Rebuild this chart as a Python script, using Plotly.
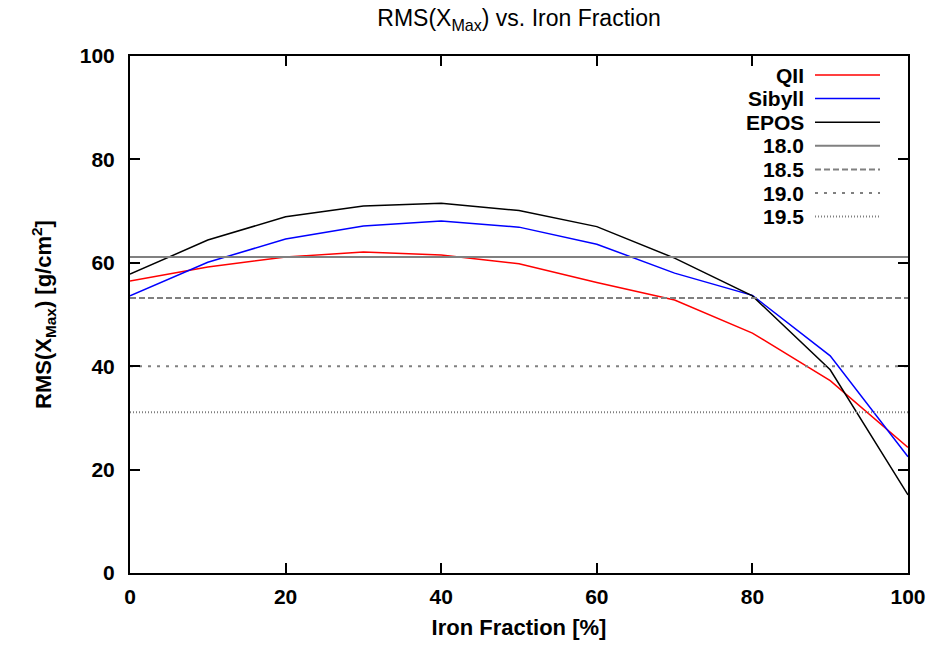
import plotly.graph_objects as go

iron_fraction = [0, 10, 20, 30, 40, 50, 60, 70, 80, 90, 100]
qii = [56.5, 59.2, 61.1, 62.1, 61.5, 59.8, 56.2, 52.8, 46.4, 37.2, 24.3]
sibyll = [53.6, 60.1, 64.6, 67.1, 68.1, 66.9, 63.6, 58.0, 53.7, 42.0, 22.5]
epos = [57.8, 64.4, 68.9, 71.0, 71.5, 70.1, 67.0, 60.9, 53.6, 39.3, 15.1]

energy_labels = ["18.0", "18.5", "19.0", "19.5"]
energy_values = [61.1, 53.2, 40.0, 31.1]

FONT = "Liberation Sans, Arial, sans-serif"

fig = go.Figure()

series = [("QII", qii, "#ff0000", "solid"),
          ("Sibyll", sibyll, "#0000ff", "solid"),
          ("EPOS", epos, "#000000", "solid")]
gray_dashes = ["solid", "6px,3px", "3px,6px", "1px,2px"]

for name, ys, col, dash in series:
    fig.add_trace(go.Scatter(x=iron_fraction, y=ys, mode="lines", name=name,
                             line=dict(color=col, width=1.5, dash=dash)))

for lab, v, d in zip(energy_labels, energy_values, gray_dashes):
    fig.add_trace(go.Scatter(x=[iron_fraction[0], iron_fraction[-1]], y=[v, v], mode="lines",
                             name=lab, line=dict(color="#808080", width=2, dash=d)))

# gnuplot-style legend: right-aligned text followed by a line sample
legend_items = [(n, c, 1.5, d) for n, _, c, d in series] + \
               [(lab, "#808080", 2, d) for lab, d in zip(energy_labels, gray_dashes)]
top_px, step_px = 75, 23.6
plot_top, plot_h = 56, 517
plot_left, plot_w = 130, 778
for i, (name, col, w, d) in enumerate(legend_items):
    ypx = top_px + i * step_px
    yp = 1 - (ypx - plot_top) / plot_h
    fig.add_annotation(xref="paper", yref="paper", x=(806 - plot_left) / plot_w, y=yp,
                       text="<b>" + name + "</b>", showarrow=False, xanchor="right",
                       yanchor="middle", font=dict(family=FONT, size=21, color="black"))
    fig.add_shape(type="line", xref="paper", yref="paper",
                  x0=(815 - plot_left) / plot_w, x1=(880 - plot_left) / plot_w, y0=yp, y1=yp,
                  line=dict(color=col, width=w, dash=d))

axis_common = dict(showline=True, linecolor="black", linewidth=2, mirror="ticks",
                   ticks="inside", ticklen=10, tickwidth=1.5, tickcolor="black",
                   showgrid=False, zeroline=False, automargin=False,
                   tickfont=dict(family=FONT, size=21, color="black", weight="bold"))

fig.update_layout(
    width=935, height=645,
    margin=dict(l=130, r=27, t=56, b=72),
    paper_bgcolor="white", plot_bgcolor="white",
    showlegend=False,
    title=dict(text="RMS(X<sub>Max</sub>) vs. Iron Fraction", xref="paper", x=0.5,
               xanchor="center", y=1 - 18 / 645, yanchor="middle",
               font=dict(family=FONT, size=23, color="black")),
    xaxis=dict(range=[0, 100], dtick=20, ticklabelstandoff=4,
               title=dict(text="<b>Iron Fraction [%]</b>", standoff=12,
                          font=dict(family=FONT, size=22, color="black")),
               **axis_common),
    yaxis=dict(range=[0, 100], dtick=20, ticklabelstandoff=9,
               title=dict(text="<b>RMS(X<sub>Max</sub>) [g/cm<sup>2</sup>]</b>", standoff=22,
                          font=dict(family=FONT, size=22, color="black")),
               **axis_common),
)

fig.write_html("out.html")
